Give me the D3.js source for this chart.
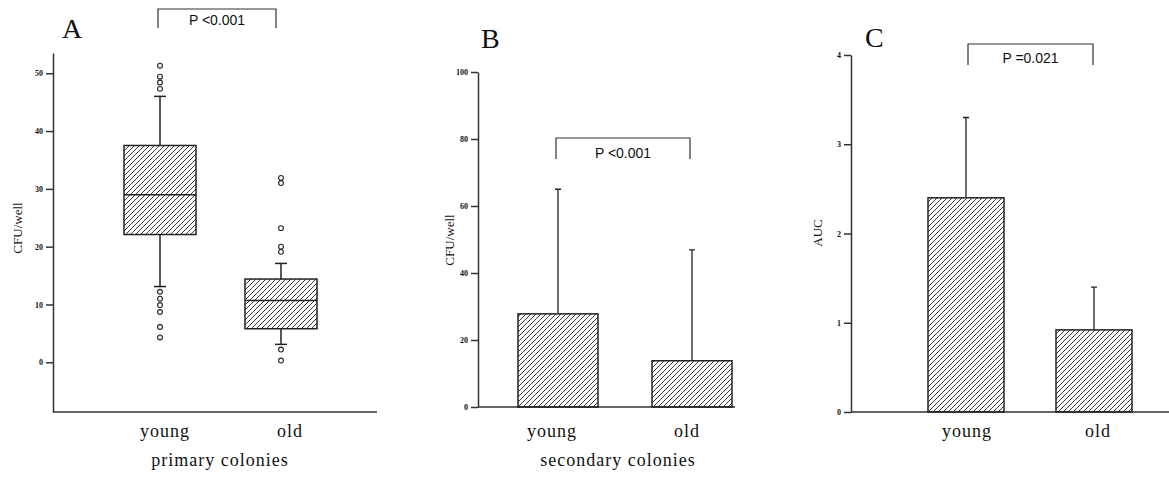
<!DOCTYPE html>
<html>
<head>
<meta charset="utf-8">
<script src="https://cdn.jsdelivr.net/npm/d3@7/dist/d3.min.js"></script>
<style>
  body { margin: 0; background: #fff; }
  svg { display: block; }
  text { font-family: "Liberation Serif", "Times New Roman", serif; fill: #111; }
  .ptext { font-family: "Liberation Sans", Arial, sans-serif; font-size: 14px; }
</style>
</head>
<body>
<script>
// ---- data ----
const groups = ["young", "old"]

// panel A: box plot (primary colonies)
const boxLow = [13.1, 3.1]
const boxQ1 = [22.1, 5.8]
const boxMedian = [29, 10.7]
const boxQ3 = [37.5, 14.4]
const boxHigh = [46, 17.1]
const outliersYoung = [51.3, 49.4, 48.4, 47.3, 12.2, 11.0, 9.9, 8.7, 6.1, 4.3]
const outliersOld = [31.9, 31.0, 23.2, 20.0, 19.1, 2.2, 0.3]
const ticksA = [0, 10, 20, 30, 40, 50]

// panel B: bar + sd (secondary colonies)
const meansB = [27.8, 13.8]
const errTopB = [65, 46.9]
const ticksB = [0, 20, 40, 60, 80, 100]

// panel C: bar + sd (AUC)
const meansC = [2.4, 0.92]
const errTopC = [3.3, 1.4]
const ticksC = [0, 1, 2, 3, 4]

const svg = d3.select("body").append("svg")
    .attr("width", 1169)
    .attr("height", 479)

svg.append("rect").attr("width", 1169).attr("height", 479).attr("fill", "#fff")

// hatch fill
svg.append("defs").append("pattern")
    .attr("id", "hatch")
    .attr("patternUnits", "userSpaceOnUse")
    .attr("width", 5).attr("height", 5)
    .append("path")
    .attr("d", "M0,5 L5,0 M-1,1 L1,-1 M4,6 L6,4")
    .attr("stroke", "#222")
    .attr("stroke-width", 0.9)

function drawAxes(g, y, ticks, xLeft, xRight, yBottom) {
    g.append("g")
        .attr("transform", "translate(" + xLeft + ",0)")
        .call(d3.axisLeft(y).tickValues(ticks).tickFormat(d3.format("d"))
            .tickSize(7).tickSizeOuter(0).tickPadding(3))
        .call(a => a.selectAll("line,path").attr("stroke", "#333").attr("stroke-width", 1.5))
        .call(a => a.selectAll("text")
            .attr("fill", "#222")
            .style("font-family", "'Liberation Serif', serif")
            .style("font-size", "8px")
            .style("font-weight", "bold"))
    g.append("line")
        .attr("x1", xLeft).attr("x2", xRight)
        .attr("y1", yBottom).attr("y2", yBottom)
        .attr("stroke", "#333").attr("stroke-width", 1.5)
}

function bracket(g, x1, x2, yTop, yLeg, label, ty) {
    g.append("path")
        .attr("d", "M" + x1 + "," + yLeg + "V" + yTop + "H" + x2 + "V" + yLeg)
        .attr("fill", "none").attr("stroke", "#333").attr("stroke-width", 1.2)
    g.append("text").attr("class", "ptext")
        .attr("x", (x1 + x2) / 2).attr("y", ty)
        .attr("text-anchor", "middle")
        .text(label)
}

function catLabels(g, x, yPos, dx) {
    g.selectAll(".cat").data(groups).enter().append("text")
        .attr("class", "cat")
        .attr("x", (d, i) => x(d) + dx[i])
        .attr("y", yPos)
        .attr("text-anchor", "middle")
        .style("font-family", "'Liberation Serif', serif")
        .style("font-size", "18px")
        .style("letter-spacing", "1px")
        .text(d => d)
}

function yLabel(g, label, x, y) {
    g.append("text")
        .attr("transform", "translate(" + x + "," + y + ") rotate(-90)")
        .attr("text-anchor", "middle")
        .style("font-size", "13px")
        .text(label)
}

function panelLetter(g, label, x, y) {
    g.append("text").attr("x", x).attr("y", y)
        .style("font-size", "28px")
        .text(label)
}

// ---------- panel A ----------
{
    const g = svg.append("g")
    const y = d3.scaleLinear().domain([-8.6, 53.5]).range([412, 53])
    const x = d3.scalePoint().domain(groups).range([160, 281])
    const bw = 72

    drawAxes(g, y, ticksA, 53, 377, 412)

    groups.forEach((grp, i) => {
        const cx = x(grp)
        // whiskers
        g.append("line").attr("x1", cx).attr("x2", cx)
            .attr("y1", y(boxHigh[i])).attr("y2", y(boxQ3[i]))
            .attr("stroke", "#222").attr("stroke-width", 1.5)
        g.append("line").attr("x1", cx).attr("x2", cx)
            .attr("y1", y(boxQ1[i])).attr("y2", y(boxLow[i]))
            .attr("stroke", "#222").attr("stroke-width", 1.5)
        ;[boxHigh[i], boxLow[i]].forEach(v => {
            g.append("line").attr("x1", cx - 6).attr("x2", cx + 6)
                .attr("y1", y(v)).attr("y2", y(v))
                .attr("stroke", "#222").attr("stroke-width", 1.5)
        })
        // box
        g.append("rect")
            .attr("x", cx - bw / 2).attr("width", bw)
            .attr("y", y(boxQ3[i])).attr("height", y(boxQ1[i]) - y(boxQ3[i]))
            .attr("fill", "url(#hatch)")
            .attr("stroke", "#222").attr("stroke-width", 1.5)
        g.append("line").attr("x1", cx - bw / 2).attr("x2", cx + bw / 2)
            .attr("y1", y(boxMedian[i])).attr("y2", y(boxMedian[i]))
            .attr("stroke", "#222").attr("stroke-width", 1.5)
    })

    const pts = outliersYoung.map(v => ({ g: "young", v: v }))
        .concat(outliersOld.map(v => ({ g: "old", v: v })))
    g.selectAll(".out").data(pts).enter().append("circle")
        .attr("class", "out")
        .attr("cx", d => x(d.g))
        .attr("cy", d => y(d.v))
        .attr("r", 2.4)
        .attr("fill", "none")
        .attr("stroke", "#222")
        .attr("stroke-width", 1.1)

    bracket(g, 158, 276, 9, 28, "P <0.001", 25)
    catLabels(g, x, 437, [5, 9])
    g.append("text").attr("x", 220).attr("y", 466)
        .attr("text-anchor", "middle")
        .style("font-size", "18px").style("letter-spacing", "1px")
        .text("primary colonies")
    yLabel(g, "CFU/well", 22, 228)
    panelLetter(g, "A", 62, 38)
}

// ---------- panel B ----------
{
    const g = svg.append("g")
    const y = d3.scaleLinear().domain([0, 100]).range([407, 72])
    const x = d3.scalePoint().domain(groups).range([558, 692])
    const bw = 80

    drawAxes(g, y, ticksB, 478, 735, 407)

    g.selectAll(".err").data(groups).enter().append("path")
        .attr("d", (d, i) => "M" + x(d) + "," + y(meansB[i]) + "V" + y(errTopB[i]) + "m-3,0h6")
        .attr("fill", "none").attr("stroke", "#222").attr("stroke-width", 1.3)

    g.selectAll(".bar").data(groups).enter().append("rect")
        .attr("x", d => x(d) - bw / 2)
        .attr("width", bw)
        .attr("y", (d, i) => y(meansB[i]))
        .attr("height", (d, i) => y(0) - y(meansB[i]))
        .attr("fill", "url(#hatch)")
        .attr("stroke", "#222").attr("stroke-width", 1.5)

    bracket(g, 556, 690, 138, 159, "P <0.001", 158)
    catLabels(g, x, 437, [-6, -5])
    g.append("text").attr("x", 618).attr("y", 466)
        .attr("text-anchor", "middle")
        .style("font-size", "18px").style("letter-spacing", "1px")
        .text("secondary colonies")
    yLabel(g, "CFU/well", 454, 240)
    panelLetter(g, "B", 481, 48)
}

// ---------- panel C ----------
{
    const g = svg.append("g")
    const y = d3.scaleLinear().domain([0, 4]).range([412, 55])
    const x = d3.scalePoint().domain(groups).range([966, 1094])
    const bw = 76

    drawAxes(g, y, ticksC, 851, 1169, 412)

    g.selectAll(".err").data(groups).enter().append("path")
        .attr("d", (d, i) => "M" + x(d) + "," + y(meansC[i]) + "V" + y(errTopC[i]) + "m-3,0h6")
        .attr("fill", "none").attr("stroke", "#222").attr("stroke-width", 1.3)

    g.selectAll(".bar").data(groups).enter().append("rect")
        .attr("x", d => x(d) - bw / 2)
        .attr("width", bw)
        .attr("y", (d, i) => y(meansC[i]))
        .attr("height", (d, i) => y(0) - y(meansC[i]))
        .attr("fill", "url(#hatch)")
        .attr("stroke", "#222").attr("stroke-width", 1.5)

    bracket(g, 968, 1093, 44, 65, "P =0.021", 63)
    catLabels(g, x, 437, [1, 4])
    yLabel(g, "AUC", 822, 233)
    panelLetter(g, "C", 865, 47)
}
</script>
</body>
</html>
